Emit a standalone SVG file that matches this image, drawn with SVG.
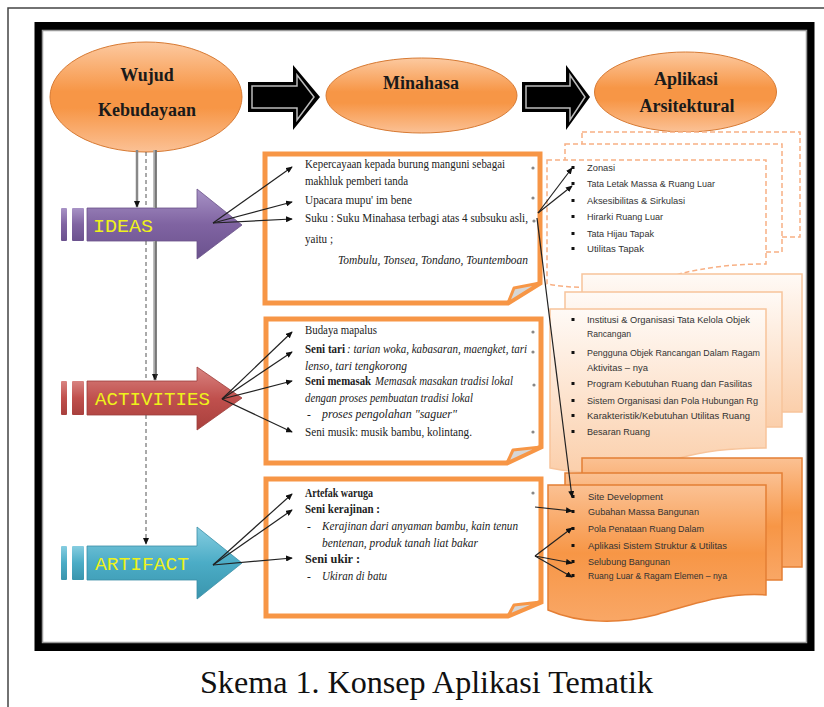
<svg xmlns="http://www.w3.org/2000/svg" width="824" height="707" viewBox="0 0 824 707">
<defs>
<linearGradient id="gEll" x1="0" y1="0" x2="0" y2="1">
<stop offset="0" stop-color="#fcc9a0"/><stop offset="0.45" stop-color="#f79646"/><stop offset="0.6" stop-color="#f79646"/><stop offset="1" stop-color="#fbc195"/>
</linearGradient>
<linearGradient id="gPur" x1="0" y1="0" x2="0" y2="1">
<stop offset="0" stop-color="#a893c6"/><stop offset="0.5" stop-color="#8064a2"/><stop offset="1" stop-color="#6b528e"/>
</linearGradient>
<linearGradient id="gRed" x1="0" y1="0" x2="0" y2="1">
<stop offset="0" stop-color="#d98481"/><stop offset="0.5" stop-color="#c0504d"/><stop offset="1" stop-color="#a8403d"/>
</linearGradient>
<linearGradient id="gBlu" x1="0" y1="0" x2="0" y2="1">
<stop offset="0" stop-color="#86cde0"/><stop offset="0.5" stop-color="#4bacc6"/><stop offset="1" stop-color="#3a95ad"/>
</linearGradient>
<linearGradient id="gPeach" x1="0" y1="0" x2="0" y2="1">
<stop offset="0" stop-color="#fffaf6"/><stop offset="1" stop-color="#fbcfab"/>
</linearGradient>
<linearGradient id="gOr" x1="0" y1="0" x2="0" y2="1">
<stop offset="0" stop-color="#fbc193"/><stop offset="0.5" stop-color="#f79646"/><stop offset="1" stop-color="#f9a766"/>
</linearGradient>
<marker id="ah" viewBox="0 0 8 7" refX="7" refY="3.5" markerWidth="7" markerHeight="6" orient="auto" markerUnits="userSpaceOnUse">
<path d="M0,0 L8,3.5 L0,7 z" fill="#111"/>
</marker>
<style>
.ell{fill:url(#gEll);stroke:#d77a33;stroke-width:1}
.et{font-family:"Liberation Serif","Times New Roman",serif;font-weight:bold;font-size:18px;fill:#1a1a1a;text-anchor:middle}
.box{fill:#fff;stroke:#f79646;stroke-width:5;stroke-linejoin:miter}
.fold{fill:#d6d6d6;stroke:#f79646;stroke-width:3;stroke-linejoin:round}
.st{font-family:"Liberation Serif","Times New Roman",serif;font-size:11.5px;fill:#222}
.it{font-style:italic}
.bd{font-weight:bold}
.rt{font-family:"Liberation Sans",Arial,sans-serif;font-size:9px;fill:#333}
.bl{fill:#111}
.ban{font-family:"Liberation Mono",monospace;font-size:19px;fill:#eef21a}
.dash{fill:#fff;stroke:#f8b084;stroke-width:1.5;stroke-dasharray:5 3}
.pch{fill:url(#gPeach);stroke:#f7c49b;stroke-width:1.5}
.org{fill:url(#gOr);stroke:#e47f35;stroke-width:1.5}
.cn{stroke:#222;stroke-width:1.2;fill:none;marker-end:url(#ah)}
.mk{fill:#888}
.cap{font-family:"Liberation Serif","Times New Roman",serif;font-size:31px;fill:#111}
</style>
</defs>
<rect x="0" y="0" width="824" height="707" fill="#fff"/>
<path d="M8,707 V8 H824" fill="none" stroke="#444" stroke-width="1.5"/>
<rect x="38.5" y="26" width="772" height="621" fill="#fff" stroke="#000" stroke-width="8"/>
<rect x="42.5" y="30.5" width="764" height="612" fill="none" stroke="#9a9a9a" stroke-width="1.5"/>

<g id="wujud">
<ellipse class="ell" cx="146" cy="97" rx="96" ry="55"/>
<text class="et" x="147" y="81">Wujud</text>
<text class="et" x="147" y="116">Kebudayaan</text>
</g>
<g id="arrow1">
<path d="M248,82 H293 V65 L320,97 L293,130 V112 H248 Z" fill="#000"/>
<path d="M252,86 H297 V75 L314,97 L297,120 V108 H252 Z" fill="none" stroke="#bbb" stroke-width="1.5"/>
</g>
<g id="minahasa">
<ellipse class="ell" cx="421.5" cy="95.5" rx="95.5" ry="37.5"/>
<text class="et" x="421" y="89">Minahasa</text>
</g>
<g id="arrow2">
<path d="M522,82 H566 V65 L590,97 L566,130 V112 H522 Z" fill="#000"/>
<path d="M526,86 H570 V75 L585,97 L570,120 V108 H526 Z" fill="none" stroke="#bbb" stroke-width="1.5"/>
</g>
<g id="aplikasi">
<ellipse class="ell" cx="685.5" cy="92" rx="91" ry="40"/>
<text class="et" x="686" y="85">Aplikasi</text>
<text class="et" x="687" y="112">Arsitektural</text>
</g>

<g id="ideas">
<rect x="61" y="208" width="6" height="33" rx="1" fill="url(#gPur)"/>
<rect x="72" y="208" width="12" height="33" rx="1" fill="url(#gPur)"/>
<path d="M87,208 H197 V189 L242,225 L197,259 V241 H87 Z" fill="url(#gPur)" stroke="#6a5288" stroke-width="0.8"/>
<text class="ban" x="93" y="232" textLength="60" lengthAdjust="spacingAndGlyphs">IDEAS</text>
</g>
<g id="activities">
<rect x="61" y="381" width="6" height="34" rx="1" fill="url(#gRed)"/>
<rect x="72" y="381" width="12" height="34" rx="1" fill="url(#gRed)"/>
<path d="M87,381 H197 V367 L242,398 L197,430 V415 H87 Z" fill="url(#gRed)" stroke="#9c3d3a" stroke-width="0.8"/>
<text class="ban" x="95" y="405" textLength="115" lengthAdjust="spacingAndGlyphs">ACTIVITIES</text>
</g>
<g id="artifact">
<rect x="61" y="546" width="6" height="34" rx="1" fill="url(#gBlu)"/>
<rect x="72" y="546" width="12" height="34" rx="1" fill="url(#gBlu)"/>
<path d="M87,546 H197 V527 L242,563 L197,599 V580 H87 Z" fill="url(#gBlu)" stroke="#3a8ea6" stroke-width="0.8"/>
<text class="ban" x="95" y="570" textLength="94" lengthAdjust="spacingAndGlyphs">ARTIFACT</text>
</g>

<g id="box-ideas">
<path class="box" d="M265,154 H540 V283 L508,303 H265 Z"/>
<path class="fold" d="M508,303 L540,283 L514,288 Z"/>
<text class="st" x="305" y="168" textLength="200" lengthAdjust="spacingAndGlyphs">Kepercayaan kepada burung manguni sebagai</text>
<text class="st" x="305" y="185" textLength="103" lengthAdjust="spacingAndGlyphs">makhluk pemberi tanda</text>
<text class="st" x="305" y="204" font-size="15" textLength="107" lengthAdjust="spacingAndGlyphs">Upacara mupu' im bene</text>
<text class="st" x="305" y="222" textLength="223" lengthAdjust="spacingAndGlyphs">Suku : Suku Minahasa terbagi atas 4 subsuku asli,</text>
<text class="st" x="305" y="243" textLength="28" lengthAdjust="spacingAndGlyphs">yaitu ;</text>
<text class="st it" x="338" y="264" textLength="190" lengthAdjust="spacingAndGlyphs">Tombulu, Tonsea, Tondano, Tountemboan</text>
<circle class="mk" cx="533" cy="168" r="1.6"/><circle class="mk" cx="533" cy="198" r="1.6"/><circle class="mk" cx="534" cy="221" r="1.6"/>
</g>
<g id="box-activities">
<path class="box" d="M266,319 H541 V447 L507,463 H266 Z"/>
<path class="fold" d="M507,463 L541,447 L513,450 Z"/>
<text class="st" x="305" y="334" textLength="72" lengthAdjust="spacingAndGlyphs">Budaya mapalus</text>
<text class="st bd" x="305" y="353" textLength="40" lengthAdjust="spacingAndGlyphs">Seni tari</text>
<text class="st it" x="347" y="353" textLength="180" lengthAdjust="spacingAndGlyphs">: tarian woka, kabasaran, maengket, tari</text>
<text class="st it" x="305" y="370" textLength="102" lengthAdjust="spacingAndGlyphs">lenso, tari tengkorong</text>
<text class="st bd" x="305" y="385" textLength="66" lengthAdjust="spacingAndGlyphs">Seni memasak</text>
<text class="st it" x="375" y="385" textLength="138" lengthAdjust="spacingAndGlyphs">Memasak masakan tradisi lokal</text>
<text class="st it" x="305" y="402" textLength="168" lengthAdjust="spacingAndGlyphs">dengan proses pembuatan tradisi lokal</text>
<text class="st" x="307" y="418">-</text>
<text class="st it" x="322" y="418" textLength="135" lengthAdjust="spacingAndGlyphs">proses pengolahan "saguer"</text>
<text class="st" x="305" y="436" textLength="167" lengthAdjust="spacingAndGlyphs">Seni musik: musik bambu, kolintang.</text>
<circle class="mk" cx="533" cy="332" r="1.6"/><circle class="mk" cx="533" cy="352" r="1.6"/><circle class="mk" cx="534" cy="385" r="1.6"/><circle class="mk" cx="533" cy="432" r="1.6"/>
</g>
<g id="box-artifact">
<path class="box" d="M266,479 H541 V602 L508,616 H266 Z"/>
<path class="fold" d="M508,616 L541,602 L514,605 Z"/>
<text class="st bd" x="305" y="497" textLength="68" lengthAdjust="spacingAndGlyphs">Artefak waruga</text>
<text class="st bd" x="305" y="513" textLength="75" lengthAdjust="spacingAndGlyphs">Seni kerajinan :</text>
<text class="st" x="307" y="530">-</text>
<text class="st it" x="322" y="530" textLength="196" lengthAdjust="spacingAndGlyphs">Kerajinan dari anyaman bambu, kain tenun</text>
<text class="st it" x="322" y="547" textLength="156" lengthAdjust="spacingAndGlyphs">bentenan, produk tanah liat bakar</text>
<text class="st bd" x="305" y="563" textLength="55" lengthAdjust="spacingAndGlyphs">Seni ukir :</text>
<text class="st" x="307" y="580">-</text>
<text class="st it" x="322" y="580" textLength="65" lengthAdjust="spacingAndGlyphs">Ukiran di batu</text>
<circle class="mk" cx="533" cy="493" r="1.6"/>
</g>

<g id="stack-top">
<rect class="dash" x="582" y="132" width="218" height="105"/>
<rect class="dash" x="565" y="144" width="217" height="108"/>
<path class="dash" d="M547,160 H766 V264 C730,264 705,268 683,273 C640,285 590,292 547,284 Z"/>
<rect class="bl" x="571.5" y="166" width="3" height="3"/>
<text class="rt" x="587" y="171" textLength="28" lengthAdjust="spacingAndGlyphs">Zonasi</text>
<rect class="bl" x="571.5" y="182" width="3" height="3"/>
<text class="rt" x="587" y="187" textLength="128" lengthAdjust="spacingAndGlyphs">Tata Letak Massa &amp; Ruang Luar</text>
<rect class="bl" x="571.5" y="199" width="3" height="3"/>
<text class="rt" x="587" y="204" font-size="10.5" textLength="98" lengthAdjust="spacingAndGlyphs">Aksesibilitas &amp; Sirkulasi</text>
<rect class="bl" x="571.5" y="215" width="3" height="3"/>
<text class="rt" x="587" y="220" textLength="76" lengthAdjust="spacingAndGlyphs">Hirarki Ruang Luar</text>
<rect class="bl" x="571.5" y="232" width="3" height="3"/>
<text class="rt" x="587" y="237" textLength="67" lengthAdjust="spacingAndGlyphs">Tata Hijau Tapak</text>
<rect class="bl" x="571.5" y="247" width="3" height="3"/>
<text class="rt" x="587" y="252" font-size="10.5" textLength="57" lengthAdjust="spacingAndGlyphs">Utilitas Tapak</text>
</g>
<g id="stack-mid">
<rect class="pch" x="582" y="274" width="220" height="138"/>
<rect class="pch" x="565" y="292" width="217" height="135"/>
<path class="pch" d="M550,309 H766 V448 C725,448 700,452 680,458 C640,470 600,478 550,468 Z"/>
<rect class="bl" x="571.5" y="318" width="3" height="3"/>
<text class="rt" x="587" y="323" textLength="163" lengthAdjust="spacingAndGlyphs">Institusi &amp; Organisasi Tata Kelola Objek</text>
<text class="rt" x="587" y="337" textLength="44" lengthAdjust="spacingAndGlyphs">Rancangan</text>
<rect class="bl" x="571.5" y="351" width="3" height="3"/>
<text class="rt" x="587" y="356" textLength="173" lengthAdjust="spacingAndGlyphs">Pengguna Objek Rancangan Dalam Ragam</text>
<text class="rt" x="587" y="371" textLength="61" lengthAdjust="spacingAndGlyphs">Aktivitas – nya</text>
<rect class="bl" x="571.5" y="382" width="3" height="3"/>
<text class="rt" x="587" y="387" textLength="165" lengthAdjust="spacingAndGlyphs">Program Kebutuhan Ruang dan Fasilitas</text>
<rect class="bl" x="571.5" y="399" width="3" height="3"/>
<text class="rt" x="587" y="404" textLength="171" lengthAdjust="spacingAndGlyphs">Sistem Organisasi dan Pola Hubungan Rg</text>
<rect class="bl" x="571.5" y="414" width="3" height="3"/>
<text class="rt" x="587" y="419" textLength="163" lengthAdjust="spacingAndGlyphs">Karakteristik/Kebutuhan Utilitas Ruang</text>
<rect class="bl" x="571.5" y="430" width="3" height="3"/>
<text class="rt" x="587" y="435" textLength="63" lengthAdjust="spacingAndGlyphs">Besaran Ruang</text>
</g>
<g id="stack-bottom">
<rect class="org" x="582" y="458" width="220" height="109"/>
<rect class="org" x="565" y="473" width="217" height="107"/>
<path class="org" d="M548,485 H766 V595 C725,592 690,605 655,615 C620,624 580,624 548,610 Z"/>
<rect class="bl" x="571.5" y="495" width="3" height="3"/>
<text class="rt" x="588" y="500" textLength="75" lengthAdjust="spacingAndGlyphs">Site Development</text>
<rect class="bl" x="571.5" y="510" width="3" height="3"/>
<text class="rt" x="588" y="515" textLength="111" lengthAdjust="spacingAndGlyphs">Gubahan Massa Bangunan</text>
<rect class="bl" x="571.5" y="527" width="3" height="3"/>
<text class="rt" x="588" y="532" textLength="116" lengthAdjust="spacingAndGlyphs">Pola Penataan Ruang Dalam</text>
<rect class="bl" x="571.5" y="544" width="3" height="3"/>
<text class="rt" x="588" y="549" textLength="139" lengthAdjust="spacingAndGlyphs">Aplikasi Sistem Struktur &amp; Utilitas</text>
<rect class="bl" x="571.5" y="560" width="3" height="3"/>
<text class="rt" x="588" y="565" textLength="82" lengthAdjust="spacingAndGlyphs">Selubung Bangunan</text>
<rect class="bl" x="571.5" y="574" width="3" height="3"/>
<text class="rt" x="588" y="579" textLength="139" lengthAdjust="spacingAndGlyphs">Ruang Luar &amp; Ragam Elemen – nya</text>
</g>

<g id="connectors">
<line x1="137" y1="150" x2="137" y2="207" stroke="#888" stroke-width="2.5" marker-end="url(#ah)"/>
<line x1="155" y1="150" x2="155" y2="208" stroke="#a8a8a8" stroke-width="3.5"/>
<line x1="155" y1="241" x2="155" y2="380" stroke="#a8a8a8" stroke-width="3.5" marker-end="url(#ah)"/>
<line x1="156" y1="150" x2="156" y2="208" stroke="#444" stroke-width="1"/>
<line x1="156" y1="241" x2="156" y2="378" stroke="#444" stroke-width="1"/>
<g stroke="#555" stroke-width="1" stroke-dasharray="4 3">
<line x1="146" y1="152" x2="146" y2="208"/>
<line x1="146" y1="241" x2="146" y2="381"/>
<line x1="146" y1="415" x2="146" y2="544" marker-end="url(#ah)"/>
</g>
<path class="cn" d="M213,223 L292,167"/>
<path class="cn" d="M213,223 L292,202"/>
<path class="cn" d="M213,223 L292,219"/>
<path class="cn" d="M222,399 L292,332"/>
<path class="cn" d="M222,399 L292,352"/>
<path class="cn" d="M222,399 L292,381"/>
<path class="cn" d="M222,399 L292,432"/>
<path class="cn" d="M213,565 L292,494"/>
<path class="cn" d="M213,565 L292,510"/>
<path class="cn" d="M213,565 L292,558"/>
<path class="cn" d="M538,213 L572,168"/>
<path class="cn" d="M538,213 L572,186"/>
<path class="cn" d="M537,218 L572,497"/>
<path class="cn" d="M535,507 L572,511"/>
<path class="cn" d="M535,556 L572,528"/>
<path class="cn" d="M535,556 L572,563"/>
<path class="cn" d="M535,556 L572,577"/>
</g>

<text class="cap" x="200" y="693" textLength="453" lengthAdjust="spacingAndGlyphs">Skema 1. Konsep Aplikasi Tematik</text>
</svg>
